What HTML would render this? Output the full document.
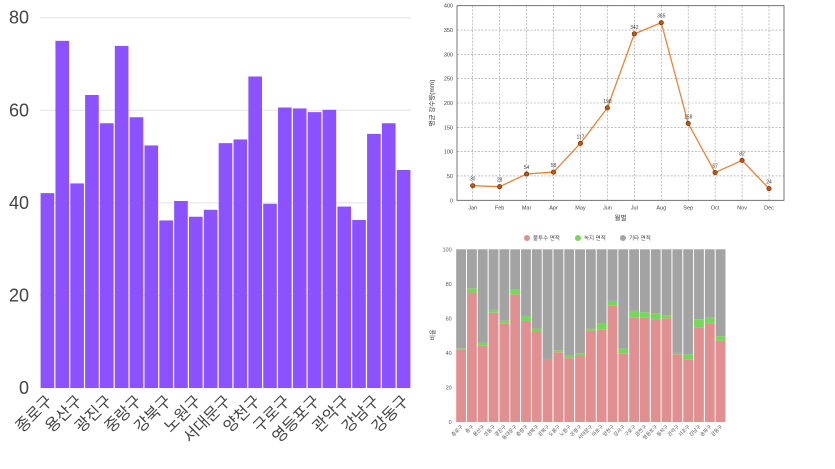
<!DOCTYPE html>
<html><head><meta charset="utf-8"><style>
body{margin:0;background:#fff;width:835px;height:469px;overflow:hidden;font-family:"Liberation Sans","Noto Sans CJK KR",sans-serif}
svg{position:absolute;left:0;top:0}
</style></head><body>
<svg id="c" width="835" height="469"></svg>
<script>
const districts=["종로구","중구","용산구","성동구","광진구","동대문구","중랑구","성북구","강북구","도봉구","노원구","은평구","서대문구","마포구","양천구","강서구","구로구","금천구","영등포구","동작구","관악구","서초구","강남구","송파구","강동구"];
const imperv=[42.1,75.0,44.2,63.3,57.2,73.9,58.5,52.4,36.2,40.4,37.0,38.5,52.9,53.7,67.3,39.8,60.6,60.4,59.6,60.1,39.2,36.3,54.9,57.2,47.1];
const green=[0.6,2.4,1.6,1.6,1.5,3.1,2.9,1.7,0.3,1.1,1.8,1.3,1.2,3.6,2.8,2.7,3.7,3.1,3.3,1.7,0.8,2.9,4.6,3.2,2.5];
const leftTicks=[0,20,40,60,80];
const months=["Jan","Feb","Mar","Apr","May","Jun","Jul","Aug","Sep","Oct","Nov","Dec"];
const rain=[30,28,54,58,117,190,342,365,158,57,82,24];
const rainTicks=[0,50,100,150,200,250,300,350,400];
const pctTicks=[0,20,40,60,80,100];
const NS="http://www.w3.org/2000/svg";
const svg=document.getElementById('c');
function mk(t,a,p,txt){const e=document.createElementNS(NS,t);for(const k in a)e.setAttribute(k,a[k]);if(txt!==undefined)e.textContent=txt;(p||svg).appendChild(e);return e;}

// LEFT BAR CHART
const g1=mk('g',{});


const L={x0:40,x1:411,y0:388,y1:17.7,max:80};
const ly=v=>L.y0-(v/L.max)*(L.y0-L.y1);
const lbw=(L.x1-L.x0)/districts.length;
leftTicks.forEach(t=>{
  if(t>0){const gl=mk('line',{x1:L.x0,x2:L.x1,y1:ly(t),y2:ly(t),stroke:'#e4e4e4','stroke-width':1},g1);
  }
  const tx=mk('text',{x:29,y:ly(t)+6,'text-anchor':'end','font-size':18,fill:'#444'},g1,String(t));
  
});
imperv.forEach((v,i)=>{
  const r=mk('rect',{x:L.x0+i*lbw+0.6,y:ly(v),width:lbw-1.2,height:L.y0-ly(v),fill:'#8c52ff'},g1);
  
  if(i%2===0){const cx=L.x0+(i+0.5)*lbw+6,cy=L.y0+14;
    const t=mk('text',{x:cx,y:cy,'text-anchor':'end','font-size':16,fill:'#444',transform:`rotate(-45 ${cx} ${cy})`},g1,districts[i]);
    }
});

// LINE CHART
const g2=mk('g',{});


const P={x0:457,x1:784,y0:200.3,y1:5.7,max:400,first:472.7,last:769};
const py=v=>P.y0-(v/P.max)*(P.y0-P.y1);
const px=i=>P.first+i*(P.last-P.first)/(months.length-1);
rainTicks.forEach(t=>{
  const gl=mk('line',{x1:P.x0,x2:P.x1,y1:py(t),y2:py(t),stroke:'#999','stroke-width':0.6,'stroke-dasharray':'2,1.5'},g2);
  
  const tx=mk('text',{x:P.x0-4,y:py(t)+2,'text-anchor':'end','font-size':5.5,fill:'#444'},g2,String(t));
  
});
months.forEach((m,i)=>{
  const gl=mk('line',{x1:px(i),x2:px(i),y1:P.y1,y2:P.y0,stroke:'#999','stroke-width':0.6,'stroke-dasharray':'2,1.5'},g2);
  
  const tx=mk('text',{x:px(i),y:P.y0+9,'text-anchor':'middle','font-size':5.5,fill:'#444'},g2,m);
  
});
const fr=mk('rect',{x:P.x0,y:P.y1,width:P.x1-P.x0,height:P.y0-P.y1,fill:'none',stroke:'#555','stroke-width':0.8},g2);

const ln=mk('polyline',{points:rain.map((v,i)=>px(i)+','+py(v)).join(' '),fill:'none',stroke:'#e8833a','stroke-width':1.3},g2);

rain.forEach((v,i)=>{
  const c=mk('circle',{cx:px(i),cy:py(v),r:2.2,fill:'#c4530f',stroke:'#5a2a08','stroke-width':0.6},g2);
  
  const t=mk('text',{x:px(i),y:py(v)-5,'text-anchor':'middle','font-size':5,fill:'#444'},g2,String(v));
  
});
let t2=mk('text',{x:P.x0+(P.x1-P.x0)/2,y:220,'text-anchor':'middle','font-size':6.5,fill:'#333'},g2,'월별');

t2=mk('text',{x:434,y:103,'text-anchor':'middle','font-size':6.5,fill:'#333',transform:'rotate(-90 434 103)'},g2,'평균 강수량(mm)');


// STACKED CHART
const g3=mk('g',{});


const S={x0:455.7,x1:726,y0:422,y1:249.3};
const sy=v=>S.y0-(v/100)*(S.y0-S.y1);
const sbw=(S.x1-S.x0)/districts.length;
pctTicks.forEach(t=>{
  const tx=mk('text',{x:S.x0-4,y:sy(t)+2,'text-anchor':'end','font-size':5.5,fill:'#555'},g3,String(t));
  
});
districts.forEach((d,i)=>{
  const x=S.x0+i*sbw+0.5,w=sbw-1,a=imperv[i],b=green[i];
  let r=mk('rect',{x,y:sy(a),width:w,height:S.y0-sy(a),fill:'#e09090'},g3);
  
  r=mk('rect',{x,y:sy(a+b),width:w,height:sy(a)-sy(a+b),fill:'#74d85a'},g3);
  
  r=mk('rect',{x,y:S.y1,width:w,height:sy(a+b)-S.y1,fill:'#a3a3a3'},g3);
  
  const cx=S.x0+(i+0.5)*sbw+2,cy=S.y0+5;
  const t=mk('text',{x:cx,y:cy,'text-anchor':'end','font-size':5,fill:'#555',transform:`rotate(-45 ${cx} ${cy})`},g3,d);
  
});
t2=mk('text',{x:435,y:335,'text-anchor':'middle','font-size':6,fill:'#444',transform:'rotate(-90 435 335)'},g3,'비율');

[['불투수 면적','#e09090',527],['녹지 면적','#74d85a',578],['기타 면적','#a3a3a3',623]].forEach(l=>{
  const c=mk('circle',{cx:l[2],cy:238,r:3,fill:l[1]},g3);
  
  const t=mk('text',{x:l[2]+6,y:240,'font-size':5.5,fill:'#444'},g3,l[0]);
  
});
</script>
</body></html>
